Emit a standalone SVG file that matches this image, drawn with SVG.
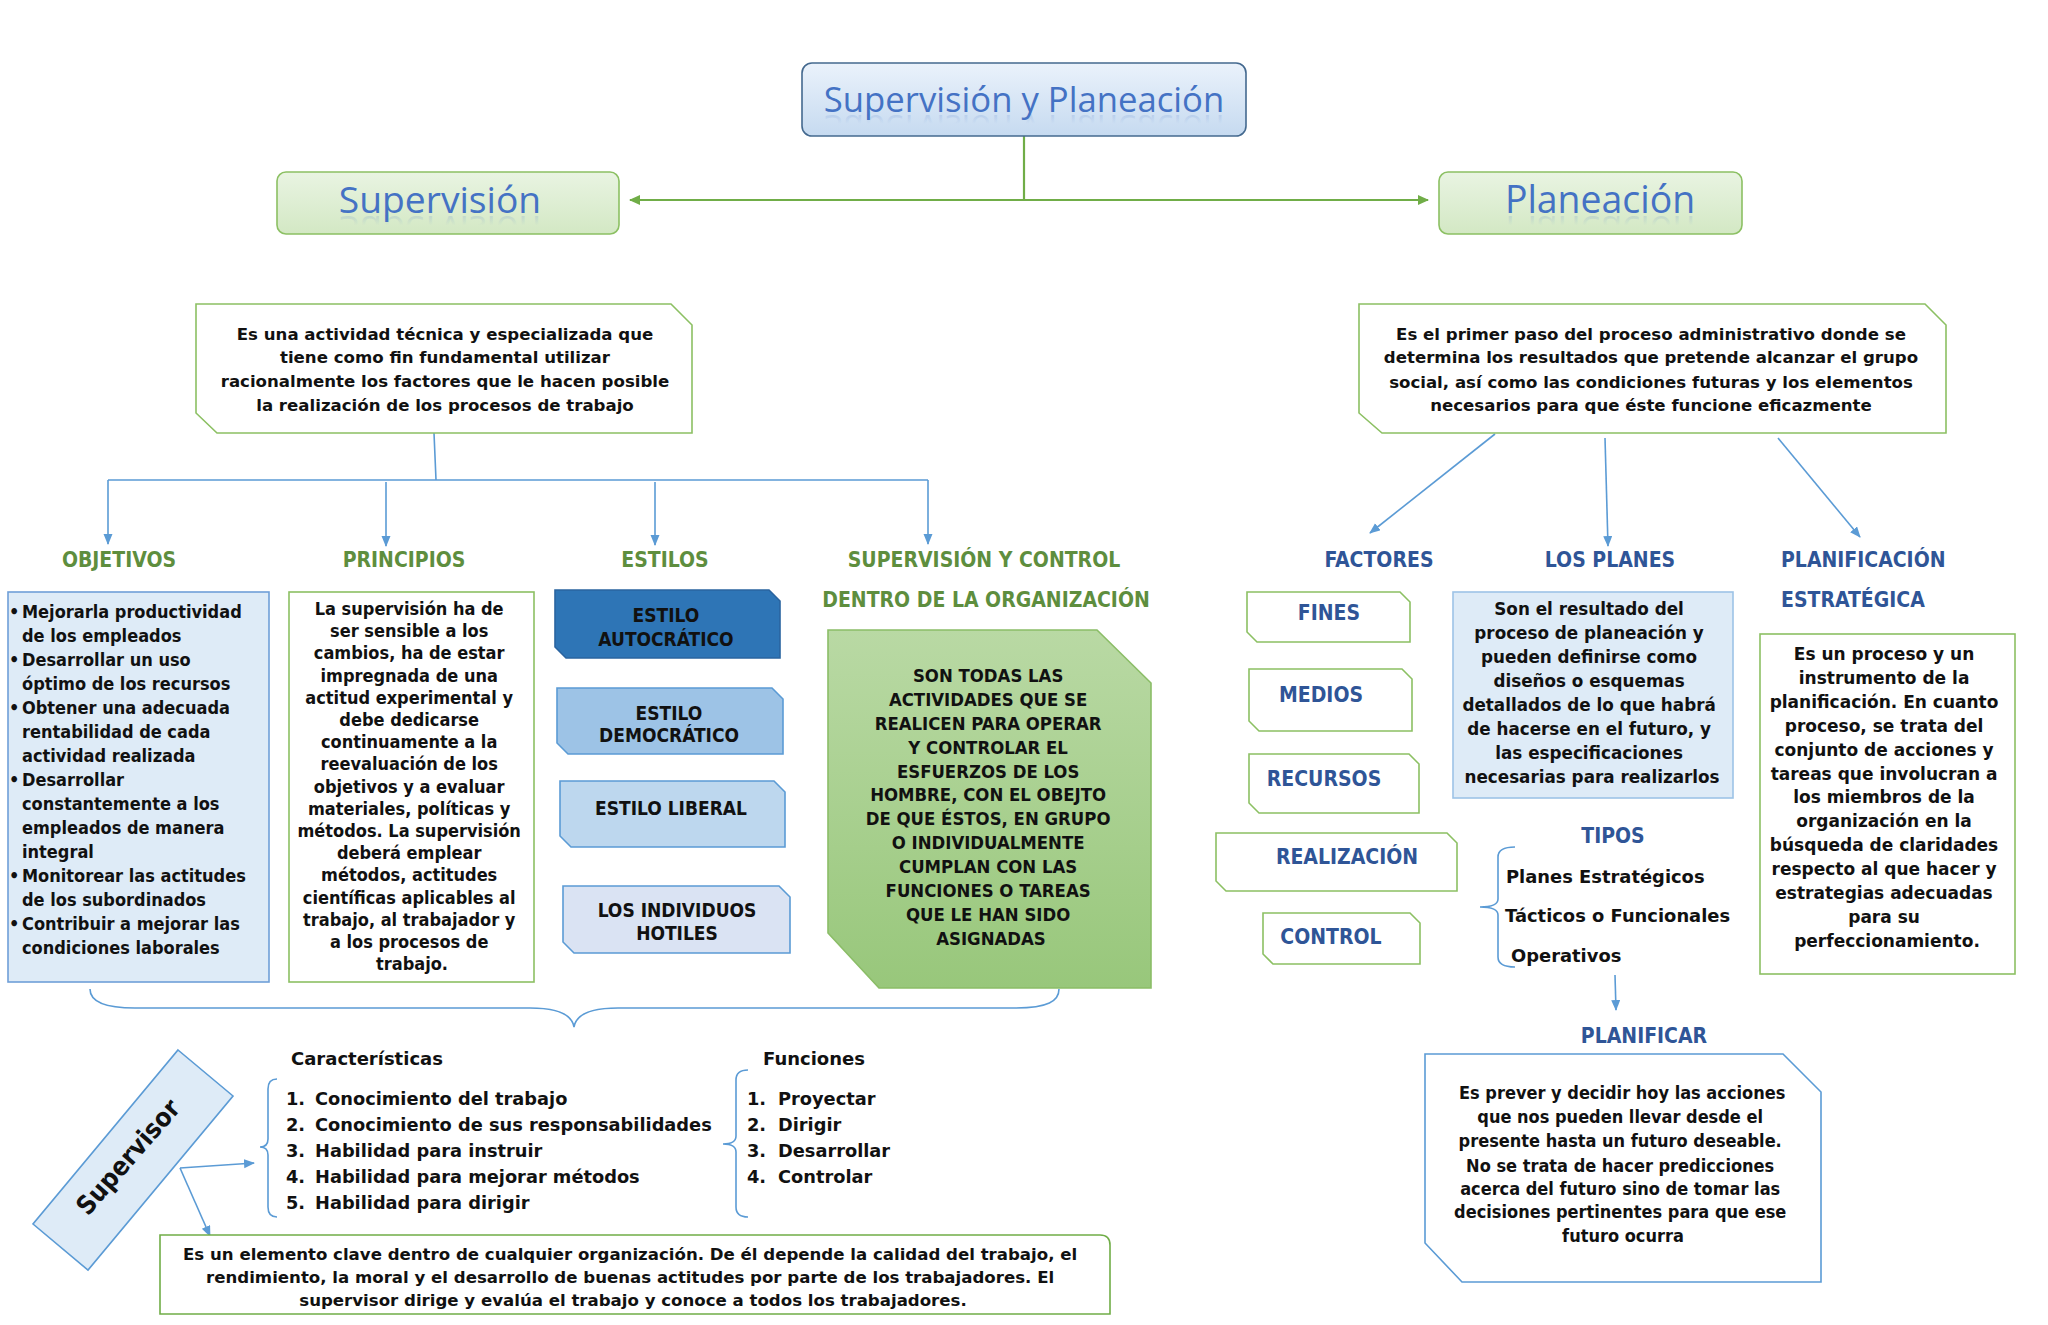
<svg xmlns="http://www.w3.org/2000/svg" xmlns:xlink="http://www.w3.org/1999/xlink" width="2048" height="1325" viewBox="0 0 2048 1325">
<defs>
<style>
.t{font-family:'DejaVu Sans Condensed','DejaVu Sans',sans-serif;font-weight:bold;font-stretch:semi-condensed;fill:#111}
.c{font-family:'DejaVu Sans',sans-serif;font-weight:bold;fill:#111}
.m{text-anchor:middle}
.hg{fill:#5e8e3e;font-size:21px}
.hb{fill:#2f5597;font-size:21px}
.ttl{font-family:'Open Sans','DejaVu Sans',sans-serif;font-weight:normal;text-anchor:middle}
.conn{stroke:#5b9bd5;stroke-width:1.6;fill:none}
.gconn{stroke:#70ad47;stroke-width:2.2;fill:none}
.gbox{fill:#fff;stroke:#8cc063;stroke-width:1.6}
.bbox{stroke:#5b9bd5;stroke-width:1.6}
</style>
<marker id="ab" markerUnits="userSpaceOnUse" markerWidth="12" markerHeight="10" refX="10" refY="4.5" orient="auto"><path d="M0,0 L11,4.5 L0,9 z" fill="#5b9bd5"/></marker>
<marker id="ag" markerUnits="userSpaceOnUse" markerWidth="12" markerHeight="12" refX="10" refY="5" orient="auto"><path d="M0,0 L11,5 L0,10 z" fill="#70ad47"/></marker>
<linearGradient id="gTitle" x1="0" y1="0" x2="0" y2="1"><stop offset="0" stop-color="#eaf2fb"/><stop offset="1" stop-color="#c6daf0"/></linearGradient>
<linearGradient id="gSub" x1="0" y1="0" x2="0" y2="1"><stop offset="0" stop-color="#e9f4e2"/><stop offset="1" stop-color="#d3e8c4"/></linearGradient>
<linearGradient id="gGreen" x1="0" y1="0" x2="0" y2="1"><stop offset="0" stop-color="#b9d9a4"/><stop offset="1" stop-color="#98c77b"/></linearGradient>
<linearGradient id="gRefl" x1="0" y1="0" x2="0" y2="1"><stop offset="0" stop-color="#4472c4" stop-opacity="0"/><stop offset="0.6" stop-color="#4472c4" stop-opacity="0"/><stop offset="0.85" stop-color="#4472c4" stop-opacity="0.22"/><stop offset="1" stop-color="#4472c4" stop-opacity="0.22"/></linearGradient>
<text id="tx1" class="ttl" x="1024" y="112" font-size="34.7">Supervisión y Planeación</text>
<text id="tx2" class="ttl" x="440" y="213" font-size="37.2">Supervisión</text>
<text id="tx3" class="ttl" x="1600" y="213" font-size="37.4">Planeación</text>
<clipPath id="cl1"><rect x="800" y="114" width="450" height="15"/></clipPath>
<clipPath id="cl2"><rect x="280" y="215" width="340" height="15"/></clipPath>
<clipPath id="cl3"><rect x="1440" y="215" width="300" height="15"/></clipPath>
<clipPath id="clBot"><rect x="160" y="1236" width="950" height="73"/></clipPath>
</defs>
<rect width="2048" height="1325" fill="#fff"/>

<g id="connectors">
<path class="gconn" d="M1024,136 V200"/>
<path class="gconn" d="M1024,200 H630" marker-end="url(#ag)"/>
<path class="gconn" d="M1024,200 H1428" marker-end="url(#ag)"/>
<path class="conn" d="M434,433 L436,480 M108,480 H928"/>
<path class="conn" d="M108,480 V544" marker-end="url(#ab)"/>
<path class="conn" d="M386,482 V546" marker-end="url(#ab)"/>
<path class="conn" d="M655,482 V545" marker-end="url(#ab)"/>
<path class="conn" d="M928,480 V544" marker-end="url(#ab)"/>
<path class="conn" d="M1495,434 L1370,533" marker-end="url(#ab)"/>
<path class="conn" d="M1605,438 L1608,546" marker-end="url(#ab)"/>
<path class="conn" d="M1778,438 L1860,537" marker-end="url(#ab)"/>
<path class="conn" d="M1615,975 L1616,1010" marker-end="url(#ab)"/>
<path class="conn" d="M90,989 C90,1001 102,1008 135,1008 L530,1008 C560,1008 572,1015 574,1027 C576,1015 588,1008 618,1008 L1015,1008 C1048,1008 1059,1001 1059,989"/>
<path class="conn" d="M180,1168 L254,1163" marker-end="url(#ab)"/>
<path class="conn" d="M180,1168 L210,1236" marker-end="url(#ab)"/>
<path class="conn" d="M277,1079 Q268,1079 268,1089 L268,1139 Q268,1147 260,1147 Q268,1147 268,1155 L268,1207 Q268,1217 277,1217"/>
<path class="conn" d="M748,1070 Q736,1070 736,1080 L736,1136 Q736,1144 723,1144 Q736,1144 736,1152 L736,1207 Q736,1217 748,1217"/>
<path class="conn" d="M1515,847 Q1498,847 1498,857 L1498,899 Q1498,907 1480,907 Q1498,907 1498,915 L1498,957 Q1498,967 1515,967"/>
</g>

<g id="title">
<rect x="802" y="63" width="444" height="73" rx="10" fill="url(#gTitle)" stroke="#44698f" stroke-width="1.6"/>
<use xlink:href="#tx1" fill="#4472c4"/>
<g clip-path="url(#cl1)"><use xlink:href="#tx1" fill="url(#gRefl)" transform="translate(0,227) scale(1,-1)"/></g>
</g>

<g id="supervision">
<rect x="277" y="172" width="342" height="62" rx="9" fill="url(#gSub)" stroke="#8cc063" stroke-width="1.6"/>
<use xlink:href="#tx2" fill="#4472c4"/>
<g clip-path="url(#cl2)"><use xlink:href="#tx2" fill="url(#gRefl)" transform="translate(0,429) scale(1,-1)"/></g>
</g>

<g id="planeacion">
<rect x="1439" y="172" width="303" height="62" rx="9" fill="url(#gSub)" stroke="#8cc063" stroke-width="1.6"/>
<use xlink:href="#tx3" fill="#4472c4"/>
<g clip-path="url(#cl3)"><use xlink:href="#tx3" fill="url(#gRefl)" transform="translate(0,429) scale(1,-1)"/></g>
</g>

<g id="def-supervision">
<path class="gbox" d="M196,304 H671 L692,325 V433 H217 L196,413 Z"/>
<text class="c m" font-size="16.6"><tspan x="445" y="340">Es una actividad técnica y especializada que</tspan><tspan x="445" y="363">tiene como fin fundamental utilizar</tspan><tspan x="445" y="387">racionalmente los factores que le hacen posible</tspan><tspan x="445" y="411">la realización de los procesos de trabajo</tspan></text>
</g>

<g id="def-planeacion">
<path class="gbox" d="M1359,304 H1925 L1946,325 V433 H1382 L1359,413 Z"/>
<text class="c m" font-size="16.6"><tspan x="1651" y="340">Es el primer paso del proceso administrativo donde se</tspan><tspan x="1651" y="363">determina los resultados que pretende alcanzar el grupo</tspan><tspan x="1651" y="388">social, así como las condiciones futuras y los elementos</tspan><tspan x="1651" y="411">necesarios para que éste funcione eficazmente</tspan></text>
</g>

<g id="headings-left">
<text class="t m hg" x="119" y="567">OBJETIVOS</text>
<text class="t m hg" x="404" y="567">PRINCIPIOS</text>
<text class="t m hg" x="665" y="567">ESTILOS</text>
<text class="t m hg" x="984" y="567">SUPERVISIÓN Y CONTROL</text>
<text class="t m hg" x="986" y="607">DENTRO DE LA ORGANIZACIÓN</text>
</g>

<g id="objetivos">
<rect x="8" y="592" width="261" height="390" fill="#deebf7" stroke="#6f9fd8" stroke-width="1.6"/>
<text class="t" font-size="18">
<tspan x="9" y="618">•</tspan><tspan x="22" y="618">Mejorarla productividad</tspan>
<tspan x="22" y="642">de los empleados</tspan>
<tspan x="9" y="666">•</tspan><tspan x="22" y="666">Desarrollar un uso</tspan>
<tspan x="22" y="690">óptimo de los recursos</tspan>
<tspan x="9" y="714">•</tspan><tspan x="22" y="714">Obtener una adecuada</tspan>
<tspan x="22" y="738">rentabilidad de cada</tspan>
<tspan x="22" y="762">actividad realizada</tspan>
<tspan x="9" y="786">•</tspan><tspan x="22" y="786">Desarrollar</tspan>
<tspan x="22" y="810">constantemente a los</tspan>
<tspan x="22" y="834">empleados de manera</tspan>
<tspan x="22" y="858">integral</tspan>
<tspan x="9" y="882">•</tspan><tspan x="22" y="882">Monitorear las actitudes</tspan>
<tspan x="22" y="906">de los subordinados</tspan>
<tspan x="9" y="930">•</tspan><tspan x="22" y="930">Contribuir a mejorar las</tspan>
<tspan x="22" y="954">condiciones laborales</tspan>
</text>
</g>

<g id="principios">
<rect class="gbox" x="289" y="592" width="245" height="390"/>
<text class="t m" font-size="18">
<tspan x="412" y="615">La supervisión ha de</tspan>
<tspan x="412" y="637">ser sensible a los</tspan>
<tspan x="412" y="659">cambios, ha de estar</tspan>
<tspan x="412" y="682">impregnada de una</tspan>
<tspan x="412" y="704">actitud experimental y</tspan>
<tspan x="412" y="726">debe dedicarse</tspan>
<tspan x="412" y="748">continuamente a la</tspan>
<tspan x="412" y="770">reevaluación de los</tspan>
<tspan x="412" y="793">objetivos y a evaluar</tspan>
<tspan x="412" y="815">materiales, políticas y</tspan>
<tspan x="412" y="837">métodos. La supervisión</tspan>
<tspan x="412" y="859">deberá emplear</tspan>
<tspan x="412" y="881">métodos, actitudes</tspan>
<tspan x="412" y="904">científicas aplicables al</tspan>
<tspan x="412" y="926">trabajo, al trabajador y</tspan>
<tspan x="412" y="948">a los procesos de</tspan>
<tspan x="412" y="970">trabajo.</tspan>
</text>
</g>

<g id="estilo-autocratico">
<path d="M555,590 H769 L780,601 V658 H566 L555,647 Z" fill="#2e75b6" stroke="#2a64a0" stroke-width="1.6"/>
<text class="t m" font-size="19"><tspan x="666" y="622">ESTILO</tspan><tspan x="666" y="646">AUTOCRÁTICO</tspan></text>
</g>
<g id="estilo-democratico">
<path class="bbox" d="M557,688 H772 L783,699 V754 H568 L557,743 Z" fill="#9dc3e6"/>
<text class="t m" font-size="19"><tspan x="669" y="720">ESTILO</tspan><tspan x="669" y="742">DEMOCRÁTICO</tspan></text>
</g>
<g id="estilo-liberal">
<path class="bbox" d="M560,781 H774 L785,792 V847 H571 L560,836 Z" fill="#bdd7ee"/>
<text class="t m" font-size="19" x="671" y="815">ESTILO LIBERAL</text>
</g>
<g id="individuos-hotiles">
<path class="bbox" d="M563,886 H779 L790,897 V953 H574 L563,942 Z" fill="#dae3f3"/>
<text class="t m" font-size="19"><tspan x="677" y="917">LOS INDIVIDUOS</tspan><tspan x="677" y="940">HOTILES</tspan></text>
</g>

<g id="supervision-control">
<path d="M828,630 H1097 L1151,683 V988 H879 L828,933 Z" fill="url(#gGreen)" stroke="#8bbd67" stroke-width="1.6"/>
<text class="t m" font-size="18.4">
<tspan x="991" y="682">SON TODAS LAS</tspan>
<tspan x="991" y="706">ACTIVIDADES QUE SE</tspan>
<tspan x="991" y="730">REALICEN PARA OPERAR</tspan>
<tspan x="991" y="754">Y CONTROLAR EL</tspan>
<tspan x="991" y="778">ESFUERZOS DE LOS</tspan>
<tspan x="991" y="801">HOMBRE, CON EL OBEJTO</tspan>
<tspan x="991" y="825">DE QUE ÉSTOS, EN GRUPO</tspan>
<tspan x="991" y="849">O INDIVIDUALMENTE</tspan>
<tspan x="991" y="873">CUMPLAN CON LAS</tspan>
<tspan x="991" y="897">FUNCIONES O TAREAS</tspan>
<tspan x="991" y="921">QUE LE HAN SIDO</tspan>
<tspan x="991" y="945">ASIGNADAS</tspan>
</text>
</g>

<g id="headings-right">
<text class="t m hb" x="1379" y="567">FACTORES</text>
<text class="t m hb" x="1610" y="567">LOS PLANES</text>
<text class="t hb" x="1781" y="567">PLANIFICACIÓN</text>
<text class="t hb" x="1781" y="607">ESTRATÉGICA</text>
</g>

<g id="fines">
<path class="gbox" d="M1247,592 H1400 L1410,602 V642 H1257 L1247,632 Z"/>
<text class="t m hb" font-size="20.5" x="1329" y="620">FINES</text>
</g>
<g id="medios">
<path class="gbox" d="M1249,669 H1402 L1412,679 V731 H1259 L1249,721 Z"/>
<text class="t m hb" font-size="20.5" x="1321" y="702">MEDIOS</text>
</g>
<g id="recursos">
<path class="gbox" d="M1249,754 H1409 L1419,764 V813 H1259 L1249,803 Z"/>
<text class="t m hb" font-size="20.5" x="1324" y="786">RECURSOS</text>
</g>
<g id="realizacion">
<path class="gbox" d="M1216,833 H1447 L1457,843 V891 H1226 L1216,881 Z"/>
<text class="t m hb" font-size="20.5" x="1347" y="864">REALIZACIÓN</text>
</g>
<g id="control">
<path class="gbox" d="M1263,913 H1410 L1420,923 V964 H1273 L1263,954 Z"/>
<text class="t m hb" font-size="20.5" x="1331" y="944">CONTROL</text>
</g>

<g id="los-planes">
<rect x="1453" y="592" width="280" height="206" fill="#deebf7" stroke="#9dc3e6" stroke-width="1.6"/>
<text class="c m" font-size="16.8">
<tspan x="1592" y="615">Son el resultado del</tspan>
<tspan x="1592" y="639">proceso de planeación y</tspan>
<tspan x="1592" y="663">pueden definirse como</tspan>
<tspan x="1592" y="687">diseños o esquemas</tspan>
<tspan x="1592" y="711">detallados de lo que habrá</tspan>
<tspan x="1592" y="735">de hacerse en el futuro, y</tspan>
<tspan x="1592" y="759">las especificaciones</tspan>
<tspan x="1592" y="783">necesarias para realizarlos</tspan>
</text>
</g>

<g id="planificacion-estrategica">
<rect class="gbox" x="1760" y="634" width="255" height="340"/>
<text class="c m" font-size="17">
<tspan x="1887" y="660">Es un proceso y un</tspan>
<tspan x="1887" y="684">instrumento de la</tspan>
<tspan x="1887" y="708">planificación. En cuanto</tspan>
<tspan x="1887" y="732">proceso, se trata del</tspan>
<tspan x="1887" y="756">conjunto de acciones y</tspan>
<tspan x="1887" y="780">tareas que involucran a</tspan>
<tspan x="1887" y="803">los miembros de la</tspan>
<tspan x="1887" y="827">organización en la</tspan>
<tspan x="1887" y="851">búsqueda de claridades</tspan>
<tspan x="1887" y="875">respecto al que hacer y</tspan>
<tspan x="1887" y="899">estrategias adecuadas</tspan>
<tspan x="1887" y="923">para su</tspan>
<tspan x="1887" y="947">perfeccionamiento.</tspan>
</text>
</g>

<g id="tipos">
<text class="t m hb" font-size="21.5" x="1613" y="843">TIPOS</text>
<text class="c" font-size="17.9"><tspan x="1506" y="883">Planes Estratégicos</tspan><tspan x="1505" y="922">Tácticos o Funcionales</tspan><tspan x="1511" y="962">Operativos</tspan></text>
</g>

<g id="planificar">
<text class="t m hb" x="1644" y="1043">PLANIFICAR</text>
<path d="M1425,1054 H1783 L1821,1092 V1282 H1462 L1425,1243 Z" fill="#fff" stroke="#5b9bd5" stroke-width="1.6"/>
<text class="t m" font-size="18">
<tspan x="1625" y="1099">Es prever y decidir hoy las acciones</tspan>
<tspan x="1623" y="1123">que nos pueden llevar desde el</tspan>
<tspan x="1623" y="1147">presente hasta un futuro deseable.</tspan>
<tspan x="1623" y="1172">No se trata de hacer predicciones</tspan>
<tspan x="1623" y="1195">acerca del futuro sino de tomar las</tspan>
<tspan x="1623" y="1218">decisiones pertinentes para que ese</tspan>
<tspan x="1623" y="1242">futuro ocurra</tspan>
</text>
</g>

<g id="supervisor">
<path d="M178,1050 L233,1096 L88,1270 L33,1224 Z" fill="#deebf7" stroke="#5b9bd5" stroke-width="1.6"/>
<text class="t m" font-size="26" transform="translate(128,1157) rotate(-49)" x="0" y="9">Supervisor</text>
</g>

<g id="caracteristicas">
<text class="c" font-size="18" x="291" y="1065">Características</text>
<text class="c" font-size="17.8">
<tspan x="286" y="1105">1.</tspan><tspan x="315" y="1105">Conocimiento del trabajo</tspan>
<tspan x="286" y="1131">2.</tspan><tspan x="315" y="1131">Conocimiento de sus responsabilidades</tspan>
<tspan x="286" y="1157">3.</tspan><tspan x="315" y="1157">Habilidad para instruir</tspan>
<tspan x="286" y="1183">4.</tspan><tspan x="315" y="1183">Habilidad para mejorar métodos</tspan>
<tspan x="286" y="1209">5.</tspan><tspan x="315" y="1209">Habilidad para dirigir</tspan>
</text>
</g>

<g id="funciones">
<text class="c" font-size="18" x="763" y="1065">Funciones</text>
<text class="c" font-size="17.8">
<tspan x="747" y="1105">1.</tspan><tspan x="778" y="1105">Proyectar</tspan>
<tspan x="747" y="1131">2.</tspan><tspan x="778" y="1131">Dirigir</tspan>
<tspan x="747" y="1157">3.</tspan><tspan x="778" y="1157">Desarrollar</tspan>
<tspan x="747" y="1183">4.</tspan><tspan x="778" y="1183">Controlar</tspan>
</text>
</g>

<g id="supervisor-def">
<path d="M160,1235 H1100 Q1110,1235 1110,1245 V1314 H160 Z" fill="#fff" stroke="#70ad47" stroke-width="1.6"/>
<text class="c m" font-size="16.6" clip-path="url(#clBot)">
<tspan x="633" y="1260">Es un elemento clave dentro de cualquier organización. De él depende la calidad del trabajo, el</tspan>
<tspan x="633" y="1283">rendimiento, la moral y el desarrollo de buenas actitudes por parte de los trabajadores. El</tspan>
<tspan x="633" y="1306">supervisor dirige y evalúa el trabajo y conoce a todos los trabajadores.</tspan>
</text>
</g>
</svg>
